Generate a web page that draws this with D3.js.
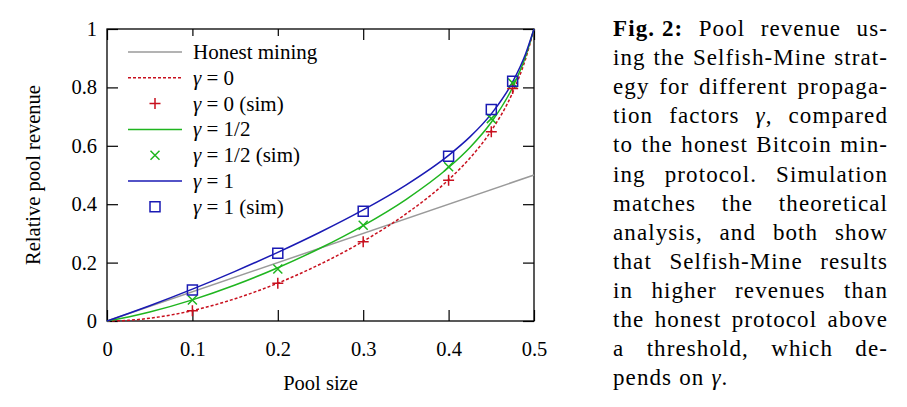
<!DOCTYPE html>
<html><head><meta charset="utf-8">
<script src="https://cdn.jsdelivr.net/npm/d3@7"></script>
<style>body{margin:0;background:#fff;} svg{display:block;} text{font-family:'Liberation Serif','Times New Roman',serif;}</style>
</head><body>
<svg id="c" width="907" height="407"></svg>
<script>
// ---- data ----
const alphaGrid = [0, 0.025, 0.05, 0.1, 0.15, 0.2, 0.25, 0.3, 0.35, 0.4, 0.425, 0.45, 0.475, 0.49, 0.5];
const gamma0    = [0, 0.0024, 0.0094, 0.0356, 0.0763, 0.1297, 0.1951, 0.2731, 0.3665, 0.4837, 0.5580, 0.6518, 0.7825, 0.8963, 1];
const gammaHalf = [0, 0.0140, 0.0309, 0.0724, 0.1232, 0.1824, 0.2500, 0.3269, 0.4160, 0.5256, 0.5943, 0.6806, 0.8006, 0.9049, 1];
const gamma1    = [0, 0.0256, 0.0524, 0.1092, 0.1701, 0.2352, 0.3049, 0.3806, 0.4656, 0.5674, 0.6306, 0.7094, 0.8187, 0.9135, 1];
const honestX = [0, 0.5];
const honestY = [0, 0.5];
const simX    = [0.1, 0.2, 0.3, 0.4, 0.45, 0.475];
const sim0    = [0.035, 0.129, 0.271, 0.482, 0.648, 0.796];
const simHalf = [0.072, 0.178, 0.328, 0.528, 0.693, 0.815];
const sim1    = [0.106, 0.232, 0.376, 0.564, 0.724, 0.821];
const xTicks = [0, 0.1, 0.2, 0.3, 0.4, 0.5];
const yTicks = [0, 0.2, 0.4, 0.6, 0.8, 1];
const legendLabels = ["Honest mining", "γ = 0", "γ = 0 (sim)", "γ = 1/2", "γ = 1/2 (sim)", "γ = 1", "γ = 1 (sim)"];
const xTitle = "Pool size";
const yTitle = "Relative pool revenue";
const captionLines = [
  "Fig.\u00a02: Pool revenue us-",
  "ing the Selfish-Mine strat-",
  "egy for different propaga-",
  "tion factors γ, compared",
  "to the honest Bitcoin min-",
  "ing protocol. Simulation",
  "matches the theoretical",
  "analysis, and both show",
  "that Selfish-Mine results",
  "in higher revenues than",
  "the honest protocol above",
  "a threshold, which de-",
  "pends on γ."
];

// ---- styles ----
const C = {red: "#c8101e", green: "#1fb51f", blue: "#1a1ab4", gray: "#9a9a9a"};
const FONT = "'Liberation Serif', 'Times New Roman', serif";

const svg = d3.select("#c");
const x = d3.scaleLinear().domain([0, 0.5]).range([107, 534]);
const y = d3.scaleLinear().domain([0, 1]).range([321, 29]);

const fmt = d => d3.format("~g")(d);

// axes (ticks inward)
const axB = svg.append("g").attr("transform", `translate(0,${y(0)})`)
  .call(d3.axisBottom(x).tickValues(xTicks).tickFormat(fmt).tickSizeInner(-11).tickSizeOuter(0).tickPadding(20));
const axL = svg.append("g").attr("transform", `translate(${x(0)},0)`)
  .call(d3.axisLeft(y).tickValues(yTicks).tickFormat(fmt).tickSizeInner(-11).tickSizeOuter(0).tickPadding(10));
const axT = svg.append("g").attr("transform", `translate(0,${y(1)})`)
  .call(d3.axisTop(x).tickValues(xTicks).tickFormat("").tickSizeInner(-11).tickSizeOuter(0));
const axR = svg.append("g").attr("transform", `translate(${x(0.5)},0)`)
  .call(d3.axisRight(y).tickValues(yTicks).tickFormat("").tickSizeInner(-11).tickSizeOuter(0));
[axB, axL, axT, axR].forEach(a => {
  a.attr("font-family", FONT);
  a.select(".domain").remove();
  a.selectAll("line").attr("stroke", "#000").attr("stroke-width", 1.2);
  a.selectAll("text").attr("font-family", FONT).attr("font-size", 20.5).attr("fill", "#000");
});

// legend background (hides part of top ticks like the reference)
svg.append("rect").attr("x", 122).attr("y", 36).attr("width", 215).attr("height", 184).attr("fill", "#fff");

// frame
svg.append("rect").attr("x", x(0)).attr("y", y(1)).attr("width", x(0.5) - x(0)).attr("height", y(0) - y(1))
  .attr("fill", "none").attr("stroke", "#000").attr("stroke-width", 1.3);

// lines
const line = d3.line().x(d => x(d[0])).y(d => y(d[1])).curve(d3.curveMonotoneX);
const plot = svg.append("g");
plot.append("path").attr("d", line(d3.zip(honestX, honestY))).attr("fill", "none").attr("stroke", C.gray).attr("stroke-width", 1.5);
plot.append("path").attr("d", line(d3.zip(alphaGrid, gamma0))).attr("fill", "none").attr("stroke", C.red).attr("stroke-width", 1.5).attr("stroke-dasharray", "3,2");
plot.append("path").attr("d", line(d3.zip(alphaGrid, gammaHalf))).attr("fill", "none").attr("stroke", C.green).attr("stroke-width", 1.5);
plot.append("path").attr("d", line(d3.zip(alphaGrid, gamma1))).attr("fill", "none").attr("stroke", C.blue).attr("stroke-width", 1.5);

// markers
const plusPath = (cx, cy, r) => `M${cx - r},${cy}H${cx + r}M${cx},${cy - r}V${cy + r}`;
const crossPath = (cx, cy, r) => `M${cx - r},${cy - r}L${cx + r},${cy + r}M${cx - r},${cy + r}L${cx + r},${cy - r}`;
const sqPath = (cx, cy, r) => `M${cx - r},${cy - r}H${cx + r}V${cy + r}H${cx - r}Z`;
function markers(xs, ys, fn, r, color) {
  plot.append("g").selectAll("path").data(d3.zip(xs, ys)).join("path")
    .attr("d", d => fn(x(d[0]), y(d[1]), r)).attr("fill", "none").attr("stroke", color).attr("stroke-width", 1.5);
}
markers(simX, sim0, plusPath, 5.5, C.red);
markers(simX, simHalf, crossPath, 4.5, C.green);
markers(simX, sim1, sqPath, 5, C.blue);

// legend
const leg = svg.append("g");
const legY = i => 52 + i * 25.8;
const legStyles = [
  {type: "line", color: C.gray}, {type: "line", color: C.red, dash: "3,2"}, {type: "mark", fn: plusPath, r: 5.5, color: C.red},
  {type: "line", color: C.green}, {type: "mark", fn: crossPath, r: 4.5, color: C.green},
  {type: "line", color: C.blue}, {type: "mark", fn: sqPath, r: 5, color: C.blue}
];
legendLabels.forEach((lab, i) => {
  const s = legStyles[i], yy = legY(i);
  if (s.type === "line") {
    leg.append("line").attr("x1", 128).attr("x2", 182).attr("y1", yy).attr("y2", yy)
      .attr("stroke", s.color).attr("stroke-width", 1.5).attr("stroke-dasharray", s.dash || null);
  } else {
    leg.append("path").attr("d", s.fn(155, yy, s.r)).attr("fill", "none").attr("stroke", s.color).attr("stroke-width", 1.5);
  }
  const t = leg.append("text").attr("x", 193).attr("y", yy).attr("dy", "0.33em")
    .attr("font-family", FONT).attr("font-size", 21).attr("fill", "#000");
  if (lab.startsWith("γ")) {
    t.append("tspan").attr("font-style", "italic").text("γ");
    t.append("tspan").text(lab.slice(1));
  } else t.text(lab);
});

// axis titles
svg.append("text").attr("x", (x(0) + x(0.5)) / 2).attr("y", 390).attr("text-anchor", "middle")
  .attr("font-family", FONT).attr("font-size", 20.5).text(xTitle);
svg.append("text").attr("transform", `translate(40,${(y(0) + y(1)) / 2}) rotate(-90)`).attr("text-anchor", "middle")
  .attr("font-family", FONT).attr("font-size", 20.5).text(yTitle);

// caption (justified)
const capX0 = 613, capX1 = 888, capY0 = 36, capDy = 29.1;
const cap = svg.append("g").attr("fill", "#000");
captionLines.forEach((ln, i) => {
  const words = ln.split(" ");
  const yy = capY0 + i * capDy;
  const els = words.map(w => {
    const t = cap.append("text").attr("y", yy)
      .attr("font-family", FONT).attr("font-size", 23).attr("letter-spacing", 1.1);
    if (w.startsWith("Fig.")) { t.attr("font-weight", "bold").text(w); }
    else {
      const parts = w.split(/(γ)/).filter(p => p !== "");
      parts.forEach(p => {
        const ts = t.append("tspan").text(p);
        if (p === "γ") ts.attr("font-style", "italic");
      });
    }
    return t;
  });
  const widths = els.map(e => e.node().getComputedTextLength());
  const sum = d3.sum(widths);
  const last = i === captionLines.length - 1;
  const gap = last ? 7 : (capX1 - capX0 - sum) / (words.length - 1);
  let cx = capX0;
  els.forEach((e, k) => { e.attr("x", cx); cx += widths[k] + gap; });
});
</script>
</body></html>
